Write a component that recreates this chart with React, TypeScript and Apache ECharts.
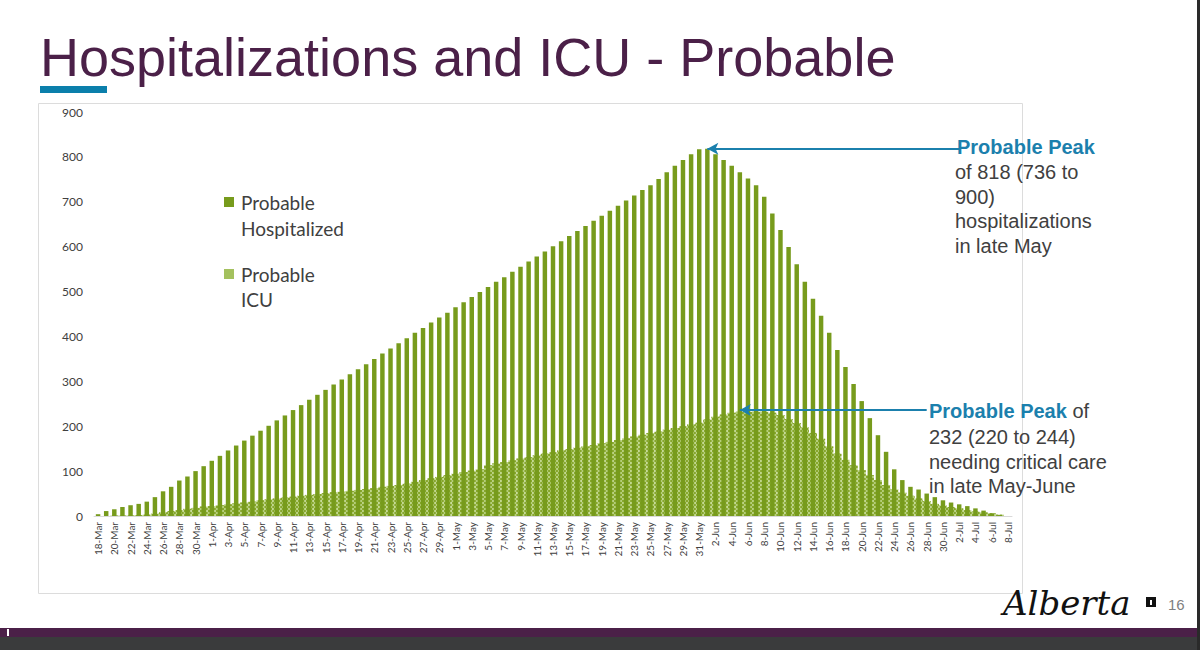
import React, { useEffect, useRef } from "react";
import * as echarts from "echarts";

const dates: string[] = [
  "18-Mar","19-Mar","20-Mar","21-Mar","22-Mar","23-Mar","24-Mar","25-Mar","26-Mar","27-Mar","28-Mar","29-Mar","30-Mar","31-Mar",
  "1-Apr","2-Apr","3-Apr","4-Apr","5-Apr","6-Apr","7-Apr","8-Apr","9-Apr","10-Apr","11-Apr","12-Apr","13-Apr","14-Apr","15-Apr",
  "16-Apr","17-Apr","18-Apr","19-Apr","20-Apr","21-Apr","22-Apr","23-Apr","24-Apr","25-Apr","26-Apr","27-Apr","28-Apr","29-Apr","30-Apr",
  "1-May","2-May","3-May","4-May","5-May","6-May","7-May","8-May","9-May","10-May","11-May","12-May","13-May","14-May","15-May","16-May",
  "17-May","18-May","19-May","20-May","21-May","22-May","23-May","24-May","25-May","26-May","27-May","28-May","29-May","30-May","31-May",
  "1-Jun","2-Jun","3-Jun","4-Jun","5-Jun","6-Jun","7-Jun","8-Jun","9-Jun","10-Jun","11-Jun","12-Jun","13-Jun","14-Jun","15-Jun",
  "16-Jun","17-Jun","18-Jun","19-Jun","20-Jun","21-Jun","22-Jun","23-Jun","24-Jun","25-Jun","26-Jun","27-Jun","28-Jun","29-Jun","30-Jun",
  "1-Jul","2-Jul","3-Jul","4-Jul","5-Jul","6-Jul","7-Jul","8-Jul",
];

const hospitalized: number[] = [
  4, 11, 15, 20, 24, 27, 32, 42, 55, 65,
  79, 88, 100, 111, 123, 134, 146, 157, 168, 179,
  190, 201, 213, 224, 236, 247, 259, 270, 281, 293,
  304, 316, 327, 338, 350, 362, 373, 385, 396, 408,
  419, 431, 442, 453, 465, 476, 488, 499, 510, 522,
  532, 544, 555, 567, 578, 589, 601, 612, 624, 635,
  646, 658, 669, 680, 691, 703, 714, 726, 737, 751,
  766, 780, 793, 806, 817, 818, 806, 793, 780, 766,
  752, 737, 711, 674, 637, 599, 561, 522, 484, 446,
  408, 370, 332, 294, 256, 218, 180, 143, 104, 80,
  65, 59, 50, 42, 35, 30, 26, 22, 17, 12,
  6, 2, 0,
];

const icu: number[] = [
  0, 0, 1, 1, 1, 2, 3, 5, 8, 11,
  13, 16, 18, 21, 22, 24, 26, 28, 30, 32,
  35, 37, 39, 41, 43, 45, 47, 49, 51, 53,
  54, 56, 58, 60, 62, 65, 67, 69, 72, 76,
  80, 84, 87, 91, 94, 98, 101, 104, 113, 117,
  120, 124, 128, 131, 135, 139, 142, 146, 149, 152,
  155, 158, 162, 165, 169, 173, 177, 181, 185, 188,
  192, 196, 200, 204, 208, 215, 221, 226, 230, 232,
  232, 232, 232, 230, 225, 216, 207, 197, 185, 172,
  155, 139, 125, 113, 102, 91, 80, 69, 59, 52,
  45, 39, 33, 27, 23, 20, 17, 13, 10, 8,
  6, 3, 0,
];

const yTicks = { min: 0, max: 900, interval: 100 };

const hospPeak = { from: "2-Jul", to: "1-Jun", value: 818 };
const icuPeak = { from: "28-Jun", to: "5-Jun", value: 236 };

const hospNote = ["of 818 (736 to", "900)", "hospitalizations", "in late May"];
const icuNote = ["232 (220 to 244)", "needing critical care", "in late May-June"];

const GREEN = "#779b1c";
const LIGHT = "#b6cf7c";
const BLUE = "#1b80ad";
const GREY_TEXT = "#404040";

export default function App() {
  const ref = useRef<HTMLDivElement>(null);
  useEffect(() => {
    if (!ref.current) return;
    const chart = echarts.init(ref.current, null, { renderer: "svg" });
    const graphic: any[] = [
      // frame
      { type: "rect", shape: { x: 38.5, y: 103.5, width: 984, height: 490 }, style: { fill: "none", stroke: "#dcdcdc", lineWidth: 1 }, z: 0, silent: true },
      // title
      { type: "text", x: 40, y: 57, style: { text: "Hospitalizations and ICU - Probable", font: '54px "Liberation Sans", Arial, sans-serif', fill: "#4b2048", textVerticalAlign: "middle" }, z: 10 },
      { type: "rect", shape: { x: 40, y: 86, width: 67, height: 7 }, style: { fill: "#0b7fab" }, z: 10 },
      // legend
      { type: "rect", shape: { x: 224, y: 197, width: 10, height: 10 }, style: { fill: GREEN }, z: 10 },
      { type: "text", x: 241, y: 202, style: { text: "Probable", font: '19px Lato, "Open Sans", sans-serif', fill: GREY_TEXT, textVerticalAlign: "middle" }, z: 10 },
      { type: "text", x: 241, y: 228, style: { text: "Hospitalized", font: '19px Lato, "Open Sans", sans-serif', fill: GREY_TEXT, textVerticalAlign: "middle" }, z: 10 },
      { type: "rect", shape: { x: 224, y: 269, width: 10, height: 10 }, style: { fill: "#a4c15e" }, z: 10 },
      { type: "text", x: 241, y: 274, style: { text: "Probable", font: '19px Lato, "Open Sans", sans-serif', fill: GREY_TEXT, textVerticalAlign: "middle" }, z: 10 },
      { type: "text", x: 241, y: 299, style: { text: "ICU", font: '19px Lato, "Open Sans", sans-serif', fill: GREY_TEXT, textVerticalAlign: "middle" }, z: 10 },
      // hosp annotation
      { type: "text", x: 957, y: 147, style: { text: "Probable Peak", font: 'bold 20px "Liberation Sans", Arial, sans-serif', fill: BLUE, textVerticalAlign: "middle" }, z: 10 },
      ...hospNote.map((t, i) => ({ type: "text", x: 955, y: 172 + i * 24.5, style: { text: t, font: '20px "Liberation Sans", Arial, sans-serif', fill: GREY_TEXT, textVerticalAlign: "middle" }, z: 10 })),
      // icu annotation
      { type: "text", x: 929, y: 411, style: { text: "{b|Probable Peak} of", font: '20px "Liberation Sans", Arial, sans-serif', fill: GREY_TEXT, textVerticalAlign: "middle", rich: { b: { font: 'bold 20px "Liberation Sans", Arial, sans-serif', fill: BLUE } } }, z: 10 },
      ...icuNote.map((t, i) => ({ type: "text", x: 929, y: 437 + i * 24.5, style: { text: t, font: '20px "Liberation Sans", Arial, sans-serif', fill: GREY_TEXT, textVerticalAlign: "middle" }, z: 10 })),
      // footer
      { type: "text", x: 1003, y: 603, style: { text: "Alberta", font: 'italic 34px "DejaVu Serif", serif', fill: "#111111", textVerticalAlign: "middle" }, z: 10 },
      { type: "rect", shape: { x: 1146, y: 597, width: 10, height: 10 }, style: { fill: "#111111" }, z: 10 },
      { type: "rect", shape: { x: 1150, y: 600, width: 2, height: 5 }, style: { fill: "#ffffff" }, z: 11 },
      { type: "text", x: 1168, y: 604, style: { text: "16", font: '15px "Liberation Sans", Arial, sans-serif', fill: "#7f7f7f", textVerticalAlign: "middle" }, z: 10 },
      { type: "rect", shape: { x: 0, y: 628, width: 1200, height: 9 }, style: { fill: "#4b2048" }, z: 10 },
      { type: "rect", shape: { x: 0, y: 637, width: 1200, height: 13 }, style: { fill: "#3a3b3c" }, z: 10 },
      { type: "rect", shape: { x: 7, y: 629, width: 2, height: 7 }, style: { fill: "#ffffff" }, z: 11 },
      { type: "rect", shape: { x: 1197, y: 0, width: 3, height: 650 }, style: { fill: "#2a2a2a" }, z: 12 },
    ];

    const option: any = {
      animation: false,
      backgroundColor: "#ffffff",
      grid: { left: 94, top: 112, width: 918, height: 404, containLabel: false },
      xAxis: [
        {
          type: "category",
          data: dates,
          axisLine: { lineStyle: { color: "#d9d9d9", width: 1 } },
          axisTick: { show: false },
          axisLabel: { interval: 1, rotate: 90, fontSize: 10, fontFamily: 'Lato, "Open Sans", sans-serif', color: GREY_TEXT, margin: 6 },
        },
        { type: "category", data: dates, show: false, gridIndex: 0 },
      ],
      yAxis: {
        type: "value",
        min: yTicks.min,
        max: yTicks.max,
        interval: yTicks.interval,
        axisLine: { show: false },
        axisTick: { show: false },
        splitLine: { show: false },
        axisLabel: { fontSize: 12, fontFamily: 'Lato, "Open Sans", sans-serif', color: GREY_TEXT, margin: 11 },
      },
      series: [
        {
          name: "Probable ICU",
          type: "bar",
          xAxisIndex: 1,
          data: icu,
          barCategoryGap: "0%",
          z: 1,
          itemStyle: {
            color: LIGHT,
            decal: {
              symbol: "rect",
              symbolSize: 1,
              color: "#86a62c",
              dashArrayX: [[2, 2], [0, 2, 2, 0]],
              dashArrayY: [2, 0],
              rotation: 0,
            },
          },
        },
        {
          name: "Probable Hospitalized",
          type: "bar",
          xAxisIndex: 0,
          data: hospitalized,
          barWidth: "55%",
          z: 2,
          itemStyle: { color: GREEN },
          markLine: {
            silent: true,
            symbol: ["none", "arrow"],
            symbolSize: [9, 11],
            label: { show: false },
            lineStyle: { color: BLUE, width: 2, type: "solid" },
            data: [
              [{ coord: [hospPeak.from, hospPeak.value] }, { coord: [hospPeak.to, hospPeak.value] }],
              [{ coord: [icuPeak.from, icuPeak.value] }, { coord: [icuPeak.to, icuPeak.value] }],
            ],
          },
        },
      ],
      graphic,
    };
    chart.setOption(option);
    return () => chart.dispose();
  }, []);
  return <div ref={ref} style={{ position: "fixed", left: 0, top: 0, width: 1200, height: 650, background: "#fff" }} />;
}
